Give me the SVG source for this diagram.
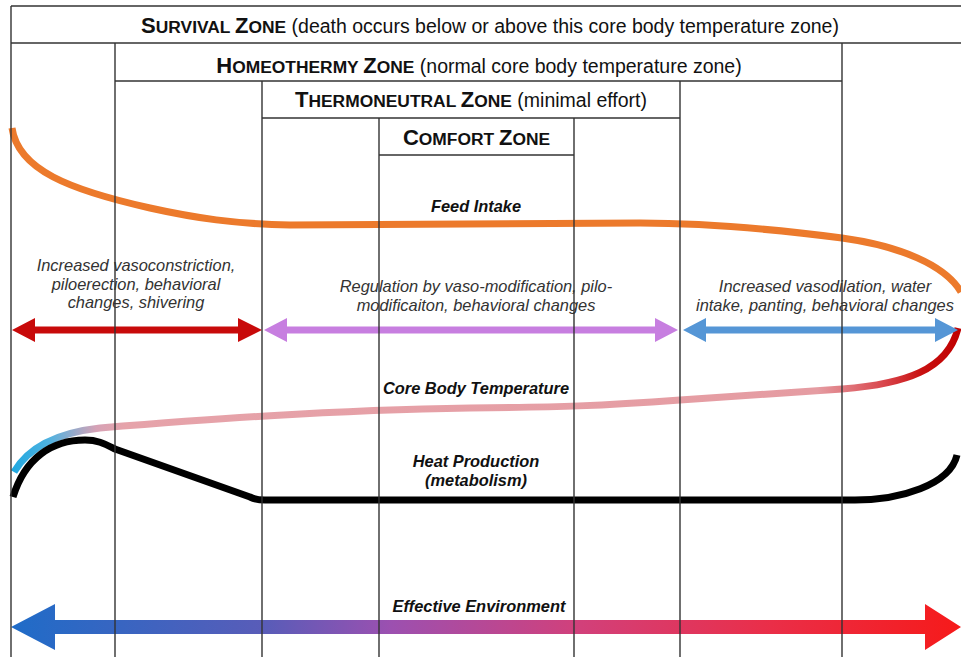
<svg xmlns="http://www.w3.org/2000/svg" width="961" height="657" viewBox="0 0 961 657">
<defs>
<style>
.ln{stroke:#333;stroke-width:1.4;fill:none}
.hdr{font-family:"Liberation Sans",Arial,sans-serif;font-weight:bold;fill:#111;text-anchor:middle}
.big{font-size:22px}
.sm{font-size:17.4px}
.nrm{font-size:19.5px;font-weight:normal}
.lab{font-family:"Liberation Sans",Arial,sans-serif;font-style:italic;font-size:16.4px;fill:#333;text-anchor:middle}
.bl{font-family:"Liberation Sans",Arial,sans-serif;font-style:italic;font-weight:bold;font-size:16.4px;fill:#111;text-anchor:middle}
.crv{fill:none;stroke-width:7;stroke-linecap:butt;stroke-linejoin:round}
</style>
<linearGradient id="gCore" gradientUnits="userSpaceOnUse" x1="11" y1="0" x2="960" y2="0">
<stop offset="0" stop-color="#1fa8e0"/>
<stop offset="0.04" stop-color="#4fb2e0"/>
<stop offset="0.09" stop-color="#d6a2b6"/>
<stop offset="0.12" stop-color="#e6a3aa"/>
<stop offset="0.85" stop-color="#e59ca2"/>
<stop offset="0.92" stop-color="#d9464c"/>
<stop offset="0.96" stop-color="#c81010"/>
<stop offset="1" stop-color="#c00000"/>
</linearGradient>
<linearGradient id="gEnv" gradientUnits="userSpaceOnUse" x1="11" y1="0" x2="961" y2="0">
<stop offset="0" stop-color="#1f6cc8"/>
<stop offset="0.27" stop-color="#5a5cb8"/>
<stop offset="0.4" stop-color="#9c50b0"/>
<stop offset="0.6" stop-color="#d2407a"/>
<stop offset="0.8" stop-color="#ea2e48"/>
<stop offset="1" stop-color="#f61a1a"/>
</linearGradient>
</defs>
<rect x="0" y="0" width="961" height="657" fill="#fff"/>

<g id="connectors">
<path id="feed-intake" class="crv" stroke="#ec7a2c" d="M 12,128 C 18,170 70,190 150,208 C 195,218 235,224 290,225 L 640,223 C 700,223 780,230 842,238 C 900,246 945,265 961,292"/>
<path id="core-temp" class="crv" stroke="url(#gCore)" d="M 14,472 C 28,448 55,433 100,428 C 200,420 330,410 470,408 C 560,407 600,406 680,400 L 842,389 C 905,384 948,370 958,328"/>
<path id="heat-production" class="crv" stroke="#000" d="M 13,497 C 25,458 52,440 85,440 C 97,440 103,443 115,449 L 250,497 C 254,499 257,500 265,500 L 855,500 C 900,500 950,485 957,455"/>
<polygon id="cold-arrow" fill="#c80a0a" points="12,330 35,318 35,326.5 238,326.5 238,318 262,330 238,342 238,333.5 35,333.5 35,342"/>
<polygon id="neutral-arrow" fill="#c77ee0" points="264,330 287,318 287,326.5 655,326.5 655,318 678,330 655,342 655,333.5 287,333.5 287,342"/>
<polygon id="heat-arrow" fill="#5596d6" points="683,330 706,318 706,326.5 935,326.5 935,318 958,330 935,342 935,333.5 706,333.5 706,342"/>
<polygon id="env-arrow" fill="url(#gEnv)" points="11,627 55,604 55,620 925,620 925,604 961,627 925,650 925,634 55,634 55,650"/>
</g>

<g id="survival-zone">
<line class="ln" x1="11" y1="6" x2="961" y2="6"/>
<line class="ln" x1="11" y1="43" x2="961" y2="43"/>
<line class="ln" x1="11" y1="6" x2="11" y2="657"/>
<text class="hdr" x="490" y="33"><tspan class="big">S</tspan><tspan class="sm">URVIVAL </tspan><tspan class="big">Z</tspan><tspan class="sm">ONE</tspan><tspan class="nrm"> (death occurs below or above this core body temperature zone)</tspan></text>
</g>

<g id="homeothermy-zone">
<line class="ln" x1="115" y1="43" x2="115" y2="657"/>
<line class="ln" x1="842" y1="43" x2="842" y2="657"/>
<line class="ln" x1="115" y1="81" x2="842" y2="81"/>
<text class="hdr" x="479" y="73"><tspan class="big">H</tspan><tspan class="sm">OMEOTHERMY </tspan><tspan class="big">Z</tspan><tspan class="sm">ONE</tspan><tspan class="nrm"> (normal core body temperature zone)</tspan></text>
</g>

<g id="thermoneutral-zone">
<line class="ln" x1="262" y1="81" x2="262" y2="657"/>
<line class="ln" x1="680" y1="81" x2="680" y2="657"/>
<line class="ln" x1="262" y1="118" x2="680" y2="118"/>
<text class="hdr" x="471" y="107"><tspan class="big">T</tspan><tspan class="sm">HERMONEUTRAL </tspan><tspan class="big">Z</tspan><tspan class="sm">ONE</tspan><tspan class="nrm"> (minimal effort)</tspan></text>
</g>

<g id="comfort-zone">
<line class="ln" x1="379" y1="118" x2="379" y2="657"/>
<line class="ln" x1="574" y1="118" x2="574" y2="657"/>
<line class="ln" x1="379" y1="155" x2="574" y2="155"/>
<text class="hdr" x="476.5" y="145"><tspan class="big">C</tspan><tspan class="sm">OMFORT </tspan><tspan class="big">Z</tspan><tspan class="sm">ONE</tspan></text>
</g>

<g id="labels">
<text class="bl" x="476" y="212">Feed Intake</text>
<text class="lab" x="136" y="271">Increased vasoconstriction,</text>
<text class="lab" x="136" y="289.5">piloerection, behavioral</text>
<text class="lab" x="136" y="308">changes, shivering</text>
<text class="lab" x="476" y="292">Regulation by vaso-modification, pilo-</text>
<text class="lab" x="476" y="311">modificaiton, behavioral changes</text>
<text class="lab" x="825" y="292">Increased vasodilation, water</text>
<text class="lab" x="825" y="311">intake, panting, behavioral changes</text>
<text class="bl" x="476" y="394">Core Body Temperature</text>
<text class="bl" x="476" y="467">Heat Production</text>
<text class="bl" x="476" y="486">(metabolism)</text>
<text class="bl" x="479" y="612" font-size="17px">Effective Environment</text>
</g>
</svg>
